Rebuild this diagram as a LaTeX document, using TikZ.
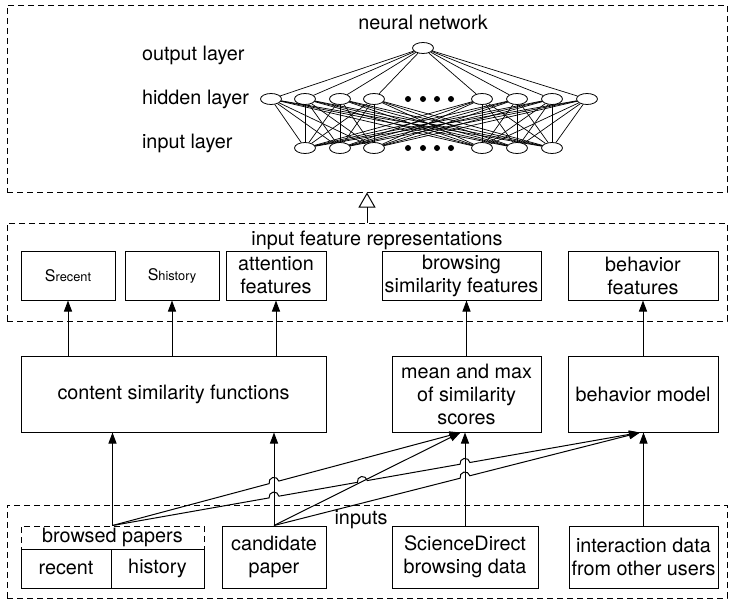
\documentclass[tikz,border=0pt]{standalone}
\usepackage{fontspec}
\setmainfont{TeX Gyre Heros}
\usetikzlibrary{arrows.meta,shapes.geometric,calc}

\tikzset{
  neuron/.style={draw,ellipse,minimum width=10.5pt,minimum height=5.5pt,inner sep=0pt},
  blob/.style={fill,circle,inner sep=0pt,minimum size=3pt},
  box/.style={draw,line width=0.5pt,align=center,inner sep=1pt},
  frame/.style={draw,dash pattern=on 3pt off 2pt,line width=0.5pt,inner sep=0pt},
  arr/.style={-{Triangle[length=5.5pt,width=4pt]},line width=0.5pt},
  hollow/.style={-{Triangle[open,length=7.5pt,width=8.5pt]},line width=0.5pt},
}
\newcommand\hopr{2.5pt}
\newcommand\hop[2]{-- ($(#1)+(#2+180:\hopr)$) arc[start angle=#2+180,end angle=#2,radius=\hopr]}
\newcommand\svar[1]{{\fontsize{8}{9}\selectfont S\fontsize{6.4}{7}\selectfont #1}}

\begin{document}
\begin{tikzpicture}[x=0.5pt,y=-0.5pt,font=\fontsize{9.9}{11.5}\selectfont]
      \useasboundingbox (0,0) rectangle (729,600);
      % frames
      \node[frame,minimum width=360pt,minimum height=93.5pt] (nn) at (367,98.5) {};
      \node[frame,minimum width=360pt,minimum height=49pt] (feat) at (367,272) {};
      \node[frame,minimum width=360pt,minimum height=46.5pt] (inp) at (367,551.5) {};
      \node (nnlab) at (423,22) {neural network};
      \node (featlab) at (377,240) {input feature representations};
      \node (inplab) at (361,520) {inputs};
      % neural network
      \draw
        (135,55) node[anchor=west] (ol){output layer}
        (135,99) node[anchor=west] (hl){hidden layer}
        (135,143) node[anchor=west] (il){input layer}
        (423,48) node[neuron] (o){}
        (271,99) node[neuron] (h1){}
        (305,99) node[neuron] (h2){}
        (340,99) node[neuron] (h3){}
        (374,99) node[neuron] (h4){}
        (482,99) node[neuron] (h5){}
        (517,99) node[neuron] (h6){}
        (552,99) node[neuron] (h7){}
        (587,99) node[neuron] (h8){}
        (305,148) node[neuron] (i1){}
        (340,148) node[neuron] (i2){}
        (374,148) node[neuron] (i3){}
        (482,148) node[neuron] (i4){}
        (517,148) node[neuron] (i5){}
        (552,148) node[neuron] (i6){}
        (408,99) node[blob] (hd1){}
        (423,99) node[blob] (hd2){}
        (437,99) node[blob] (hd3){}
        (451,99) node[blob] (hd4){}
        (408,148) node[blob] (id1){}
        (423,148) node[blob] (id2){}
        (437,148) node[blob] (id3){}
        (451,148) node[blob] (id4){};
      \begin{scope}[-,line width=0.35pt]
        \draw (o) to (h1);
        \draw (o) to (h2);
        \draw (o) to (h3);
        \draw (o) to (h4);
        \draw (o) to (h5);
        \draw (o) to (h6);
        \draw (o) to (h7);
        \draw (o) to (h8);
        \draw (h1) to (i1);
        \draw (h1) to (i2);
        \draw (h1) to (i3);
        \draw (h1) to (i4);
        \draw (h1) to (i5);
        \draw (h1) to (i6);
        \draw (h2) to (i1);
        \draw (h2) to (i2);
        \draw (h2) to (i3);
        \draw (h2) to (i4);
        \draw (h2) to (i5);
        \draw (h2) to (i6);
        \draw (h3) to (i1);
        \draw (h3) to (i2);
        \draw (h3) to (i3);
        \draw (h3) to (i4);
        \draw (h3) to (i5);
        \draw (h3) to (i6);
        \draw (h4) to (i1);
        \draw (h4) to (i2);
        \draw (h4) to (i3);
        \draw (h4) to (i4);
        \draw (h4) to (i5);
        \draw (h4) to (i6);
        \draw (h5) to (i1);
        \draw (h5) to (i2);
        \draw (h5) to (i3);
        \draw (h5) to (i4);
        \draw (h5) to (i5);
        \draw (h5) to (i6);
        \draw (h6) to (i1);
        \draw (h6) to (i2);
        \draw (h6) to (i3);
        \draw (h6) to (i4);
        \draw (h6) to (i5);
        \draw (h6) to (i6);
        \draw (h7) to (i1);
        \draw (h7) to (i2);
        \draw (h7) to (i3);
        \draw (h7) to (i4);
        \draw (h7) to (i5);
        \draw (h7) to (i6);
        \draw (h8) to (i1);
        \draw (h8) to (i2);
        \draw (h8) to (i3);
        \draw (h8) to (i4);
        \draw (h8) to (i5);
        \draw (h8) to (i6);
      \end{scope}
      \draw[hollow] (feat.north) -- (nn.south);
      % feature representations
      \node[box,minimum width=47pt,minimum height=24.5pt] (sr) at (68,275.5) {\svar{recent}};
      \node[box,minimum width=47pt,minimum height=24.5pt] (sh) at (172,275.5) {\svar{history}};
      \node[box,minimum width=50pt,minimum height=24.5pt] (af) at (276,275.5) {attention\\features};
      \node[box,minimum width=79.5pt,minimum height=24.5pt] (bs) at (461.5,275.5) {browsing\\similarity features};
      \node[box,minimum width=75pt,minimum height=24.5pt] (bf) at (643,275.5) {behavior\\features};
      % models
      \node[box,minimum width=152.5pt,minimum height=38pt] (cs) at (173.5,394) {content similarity functions};
      \node[box,minimum width=74.5pt,minimum height=38pt] (mm) at (466.5,394) {mean and max\\of similarity\\scores};
      \node[box,minimum width=75pt,minimum height=38pt] (bm) at (643,394) {behavior model};
      % inputs
      \node[frame,minimum width=91.5pt,minimum height=11.5pt] (bp) at (112.5,537.5) {browsed papers};
      \node[box,minimum width=45pt,minimum height=19.5pt] (rc) at (66,568.5) {recent};
      \node[box,minimum width=46.5pt,minimum height=19.5pt] (hi) at (157.5,568.5) {history};
      \node[box,minimum width=52pt,minimum height=31pt] (cp) at (274,557) {candidate\\paper};
      \node[box,minimum width=73pt,minimum height=31pt] (sd) at (465,557) {ScienceDirect\\browsing data};
      \node[box,minimum width=74.5pt,minimum height=31pt] (id) at (643.5,557) {interaction data\\from other users};
      % arrows
      \draw[arr] (cs.north -| sr.south) -- (sr.south);
      \draw[arr] (cs.north -| sh.south) -- (sh.south);
      \draw[arr] (cs.north -| af.south) -- (af.south);
      \draw[arr] (mm.north) -- (mm.north |- bs.south);
      \draw[arr] (bm.north) -- (bm.north |- bf.south);
      \coordinate (cpup) at (cp.north |- cs.south);
      \coordinate (sdup) at (sd.north |- mm.south);
      \coordinate (mmin) at ([xshift=-3pt]mm.south);
      \coordinate (bmin) at ([xshift=-1.5pt]bm.south);
      \draw[arr] (bp.north) -- (bp.north |- cs.south);
      \draw[arr] (cp.north) -- (cpup);
      \draw[arr] (sd.north) -- (sdup);
      \draw[arr] (id.north) -- (id.north |- bm.south);
      \coordinate (k1) at (intersection of bp.north--mmin and cp.north--cpup);
      \coordinate (k2) at (intersection of bp.north--bmin and cp.north--cpup);
      \coordinate (k3) at (intersection of bp.north--bmin and cp.north--mmin);
      \coordinate (k4) at (intersection of bp.north--bmin and sd.north--sdup);
      \coordinate (k5) at (intersection of cp.north--bmin and sd.north--sdup);
      \draw[arr] let \p1=($(mmin)-(bp.north)$), \n1={atan2(\y1,\x1)} in
        (bp.north) \hop{k1}{\n1} -- (mmin);
      \draw[arr] let \p1=($(bmin)-(bp.north)$), \n1={atan2(\y1,\x1)} in
        (bp.north) \hop{k2}{\n1} \hop{k3}{\n1} \hop{k4}{\n1} -- (bmin);
      \draw[arr] (cp.north) -- (mmin);
      \draw[arr] let \p1=($(bmin)-(cp.north)$), \n1={atan2(\y1,\x1)} in
        (cp.north) \hop{k5}{\n1} -- (bmin);
    \end{tikzpicture}
\end{document}
